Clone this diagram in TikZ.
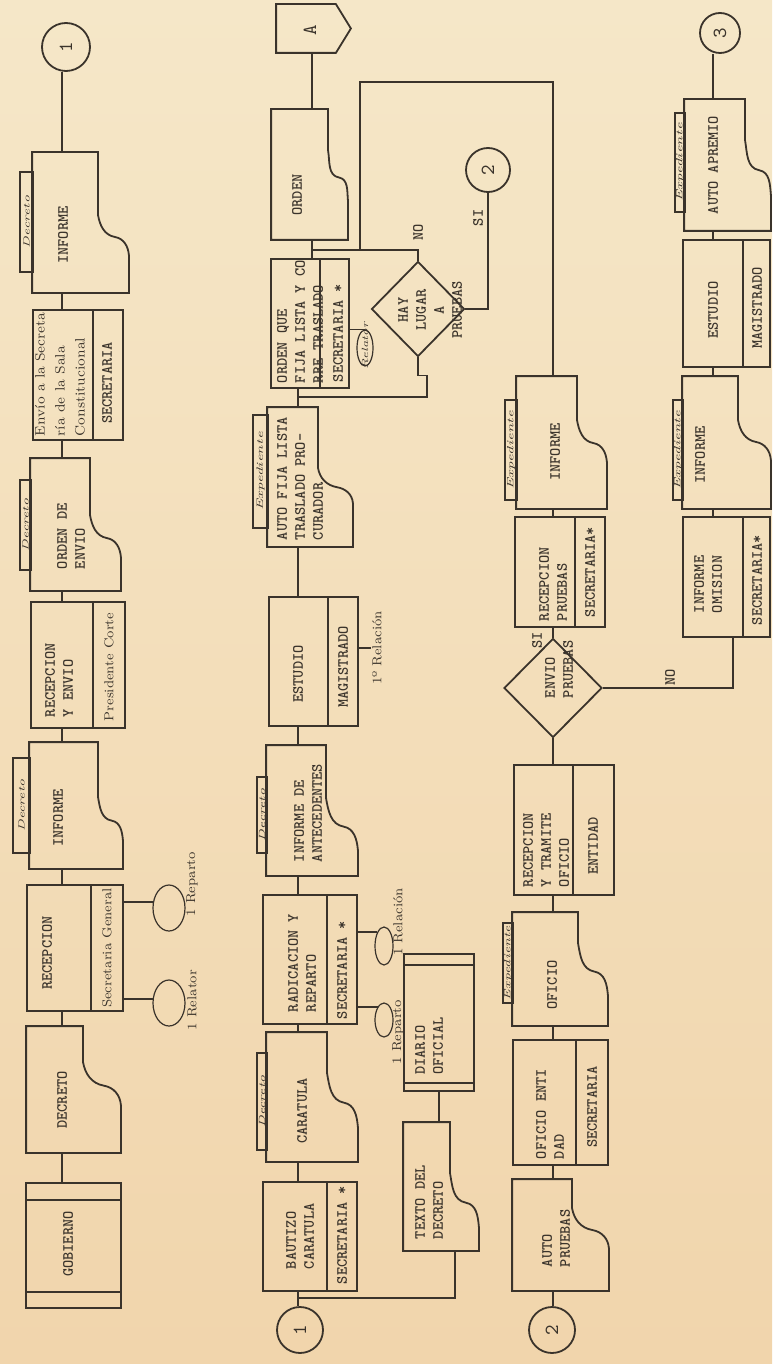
\documentclass[tikz,border=0pt]{standalone}
\usepackage{graphicx}
\usepackage{xcolor}
\definecolor{paper}{HTML}{F5E7C8}
\definecolor{paperdeep}{HTML}{F1D5AC}
\definecolor{ink}{HTML}{3A332B}
\usetikzlibrary{calc,fit,positioning,shapes.geometric}

\begin{document}
\begin{tikzpicture}[x=0.5pt, y=-0.5pt, line width=0.9pt, color=ink,
    box/.style={draw, inner sep=0pt},
    docbox/.style={inner sep=0pt},
    tab/.style={draw, inner sep=0pt, line width=0.6pt},
    conn/.style={draw, circle, inner sep=0pt, minimum size=#1, font=\ttfamily\fontsize{10}{10}\selectfont},
    oval/.style={draw, ellipse, inner sep=0pt, line width=0.6pt},
    txt/.style={rotate=90, inner sep=0pt, align=left, font=\ttfamily\bfseries\fontsize{7.8}{9}\selectfont},
    hand/.style={rotate=90, inner sep=0pt, align=left, font=\rmfamily\fontsize{6.5}{10}\selectfont},
    mini/.style={rotate=90, inner sep=0pt, font=\rmfamily\itshape\fontsize{4.5}{5}\selectfont}]

  \useasboundingbox (0,0) rectangle (772,1364);
  \shade[top color=paper, bottom color=paperdeep] (0,0) rectangle (772,1364);

  % ================= column 1 =================
  \node[conn=24pt] (c1a) at (66,47) {\rotatebox{90}{1}};
  \node[docbox, fit={(33,153) (128,292)}] (inf1) {};
  \node[tab, fit={(20,172) (33,272)}] (t1) {};
  \node[mini] (t1t) at (t1) {\scalebox{1.5}[1]{Decreto}};
  \node[txt] (inf1t) at (63,235) {INFORME};

  \node[box, fit={(33,310) (123,440)}] (env) {};
  \node[hand, anchor=west, font=\rmfamily\fontsize{6.8}{10}\selectfont] (envt) at (60,437) {Envío a la Secreta\\ría de la Sala\\Constitucional};
  \node[txt] (envr) at (107,383) {SECRETARIA};

  \node[docbox, fit={(31,459) (120,590)}] (ord1) {};
  \node[tab, fit={(20,480) (31,570)}] (t2) {};
  \node[mini] (t2t) at (t2) {\scalebox{1.5}[1]{Decreto}};
  \node[txt, anchor=west] (ord1t) at (71,570) {ORDEN DE\\ENVIO};

  \node[box, fit={(31,602) (125,728)}] (recenv) {};
  \node[txt, anchor=west] (recenvt) at (59,718) {RECEPCION\\Y ENVIO};
  \node[hand] (recenvr) at (109,667) {Presidente Corte};

  \node[docbox, fit={(30,743) (122,868)}] (inf2) {};
  \node[tab, fit={(13,758) (30,853)}] (t3) {};
  \node[mini] (t3t) at (t3) {\scalebox{1.5}[1]{Decreto}};
  \node[txt] (inf2t) at (58,818) {INFORME};

  \node[box, fit={(27,885) (123,1011)}] (rec) {};
  \node[txt] (rect) at (47,953) {RECEPCION};
  \node[hand] (recr) at (107,948) {Secretaria General};

  \node[oval, minimum width=16pt, minimum height=23pt] (ell1) at (169,908) {};
  \node[oval, minimum width=16pt, minimum height=23pt] (ell2) at (169,1003) {};
  \node[hand] (lab1) at (192,884) {1 Reparto};
  \node[hand] (lab2) at (192,1000) {1 Relator};

  \node[docbox, fit={(27,1027) (120,1152)}] (dec) {};
  \node[txt] (dect) at (62,1100) {DECRETO};

  \node[box, fit={(26,1183) (121,1308)}] (gob) {};
  \node[txt] (gobt) at (68,1244) {GOBIERNO};

  % ================= column 2 =================
  \node[docbox, fit={(277,5) (350,52)}] (offA) {};
  \draw (offA.south west) -- (offA.north west) -- ($(offA.north east)+(-15,0)$)
    -- (offA.east) -- ($(offA.south east)+(-15,0)$) -- cycle;
  \node[txt, font=\ttfamily\fontsize{10}{10}\selectfont] (offAt) at (310,30) {A};

  \node[docbox, fit={(272,110) (347,239)}] (ordA) {};
  \node[txt] (ordAt) at (297,195) {ORDEN};

  \node[box, fit={(271,259) (349,388)}] (oql) {};
  \node[txt, anchor=west] (oqlt) at (300,384) {ORDEN QUE\\FIJA LISTA Y CO\\RRE TRASLADO};
  \node[txt] (oqlr) at (338,333) {SECRETARIA *};
  \node[oval, minimum width=8pt, minimum height=18pt] (rel) at (365,348) {};
  \node[mini] (relt) at (365,346) {\scalebox{1.4}[1]{Relator}};

  \node[draw, diamond, inner sep=0pt, minimum width=46.5pt, minimum height=47.5pt] (hay) at (418,309) {};
  \node[txt, align=center] (hayt) at (430,310) {HAY\\LUGAR\\A\\PRUEBAS};
  \node[txt] (not1) at (418,232) {NO};
  \node[txt] (sit1) at (478,218) {SI};
  \node[conn=22pt] (c2a) at (488,170) {\rotatebox{90}{2}};

  \node[docbox, fit={(268,408) (352,546)}] (afl) {};
  \node[tab, fit={(253,415) (268,528)}] (t4) {};
  \node[mini] (t4t) at (t4) {\scalebox{1.6}[1]{Expediente}};
  \node[txt, anchor=west] (aflt) at (300,541) {AUTO FIJA LISTA\\TRASLADO PRO-\\CURADOR};

  \node[box, fit={(269,597) (358,726)}] (est1) {};
  \node[txt] (est1t) at (298,674) {ESTUDIO};
  \node[txt] (est1r) at (343,667) {MAGISTRADO};
  \node[hand] (rl1) at (377,648) {1º Relación};

  \node[docbox, fit={(267,746) (357,875)}] (ant) {};
  \node[tab, fit={(257,777) (267,853)}] (t5) {};
  \node[mini] (t5t) at (t5) {\scalebox{1.5}[1]{Decreto}};
  \node[txt, anchor=west] (antt) at (308,863) {INFORME DE\\ANTECEDENTES};

  \node[box, fit={(263,895) (357,1024)}] (rad) {};
  \node[txt, anchor=west] (radt) at (302,1013) {RADICACION Y\\REPARTO};
  \node[txt] (radr) at (342,970) {SECRETARIA *};
  \node[oval, minimum width=9pt, minimum height=19pt] (ell3) at (384,946) {};
  \node[oval, minimum width=9pt, minimum height=17pt] (ell4) at (384,1020) {};
  \node[hand] (lab3) at (398,922) {1 Relación};
  \node[hand] (lab4) at (398,1032) {1 Reparto};

  \node[box, fit={(404,954) (474,1091)}] (dia) {};
  \node[txt] (diat) at (429,1046) {DIARIO\\OFICIAL};
  \node[docbox, fit={(404,1123) (478,1250)}] (texd) {};
  \node[txt, anchor=west] (texdt) at (429,1240) {TEXTO DEL\\DECRETO};

  \node[docbox, fit={(267,1033) (357,1161)}] (car) {};
  \node[tab, fit={(257,1053) (267,1150)}] (t6) {};
  \node[mini] (t6t) at (t6) {\scalebox{1.5}[1]{Decreto}};
  \node[txt] (cart) at (302,1111) {CARATULA};

  \node[box, fit={(263,1182) (357,1291)}] (bau) {};
  \node[txt, anchor=west] (baut) at (300,1270) {BAUTIZO\\CARATULA};
  \node[txt] (baur) at (342,1235) {SECRETARIA *};
  \node[conn=23pt] (c1b) at (300,1330) {\rotatebox{90}{1}};

  % ================= column 3 =================
  \node[docbox, fit={(517,377) (606,508)}] (inf3) {};
  \node[tab, fit={(505,400) (517,500)}] (t7) {};
  \node[mini] (t7t) at (t7) {\scalebox{1.6}[1]{Expediente}};
  \node[txt] (inf3t) at (555,452) {INFORME};

  \node[box, fit={(515,517) (605,627)}] (recp) {};
  \node[txt, anchor=west] (recpt) at (553,622) {RECEPCION\\PRUEBAS};
  \node[txt] (recpr) at (590,572) {SECRETARIA*};

  \node[draw, diamond, inner sep=0pt, minimum width=49pt, minimum height=49.5pt] (env2) at (553,688) {};
  \node[txt, anchor=west] (env2t) at (559,699) {ENVIO\\PRUEBAS};
  \node[txt] (sit2) at (537,640) {SI};
  \node[txt] (not2) at (670,677) {NO};

  \node[box, fit={(514,765) (614,895)}] (rtr) {};
  \node[txt, anchor=west] (rtrt) at (546,888) {RECEPCION\\Y TRAMITE\\OFICIO};
  \node[txt] (rtrr) at (593,846) {ENTIDAD};

  \node[docbox, fit={(513,913) (607,1025)}] (ofi) {};
  \node[tab, fit={(503,923) (513,1003)}] (t8) {};
  \node[mini] (t8t) at (t8) {\scalebox{1.5}[1]{Expediente}};
  \node[txt] (ofit) at (552,985) {OFICIO};

  \node[box, fit={(513,1040) (608,1165)}] (ofe) {};
  \node[txt, anchor=west] (ofet) at (550,1160) {OFICIO ENTI\\DAD};
  \node[txt] (ofer) at (592,1107) {SECRETARIA};

  \node[docbox, fit={(513,1180) (608,1290)}] (aup) {};
  \node[txt, anchor=west] (aupt) at (556,1268) {AUTO\\PRUEBAS};
  \node[conn=23pt] (c2b) at (552,1330) {\rotatebox{90}{2}};

  % ================= column 4 =================
  \node[conn=20pt] (c3) at (720,33) {\rotatebox{90}{3}};
  \node[docbox, fit={(685,100) (770,230)}] (apr) {};
  \node[tab, fit={(675,113) (685,212)}] (t9) {};
  \node[mini] (t9t) at (t9) {\scalebox{1.6}[1]{Expediente}};
  \node[txt] (aprt) at (713,165) {AUTO APREMIO};

  \node[box, fit={(683,240) (770,367)}] (est2) {};
  \node[txt] (est2t) at (713,310) {ESTUDIO};
  \node[txt] (est2r) at (757,308) {MAGISTRADO};

  \node[docbox, fit={(683,377) (770,508)}] (inf4) {};
  \node[tab, fit={(673,400) (683,500)}] (t10) {};
  \node[mini] (t10t) at (t10) {\scalebox{1.6}[1]{Expediente}};
  \node[txt] (inf4t) at (700,455) {INFORME};

  \node[box, fit={(683,517) (770,637)}] (inom) {};
  \node[txt, anchor=west] (inomt) at (708,614) {INFORME\\OMISION};
  \node[txt] (inomr) at (757,580) {SECRETARIA*};

  % ================= outlines =================
  \foreach \n/\xc/\ya/\yb in {inf1/98/215/255, ord1/90/515/557, inf2/98/797/840,
      dec/83/1062/1105, ordA/328/150/200, afl/318/468/503, ant/326/798/850,
      car/327/1073/1127, texd/450/1173/1227, inf3/577/420/462, ofi/578/943/995,
      aup/572/1208/1248, apr/745/140/195, inf4/738/420/460}{
    \draw (\n.south west) -- (\n.north west) -- (\xc,0 |- \n.north) -- (\xc,\ya)
      to[out=-80,in=170] ($(\xc,\ya)!0.55!(\n.east |- 0,\yb)$)
      to[out=-10,in=95] (\n.east |- 0,\yb) -- (\n.south east) -- cycle;
  }

  \foreach \n/\xs in {env/93, recenv/93, rec/91, oql/320, est1/328, rad/327, bau/327,
      recp/575, inom/743, rtr/573, ofe/576, est2/743}{
    \draw (\xs,0 |- \n.north) -- (\xs,0 |- \n.south);
  }

  \foreach \n/\ys in {gob/1200, gob/1292, dia/965, dia/1083}{
    \draw (\n.west |- 0,\ys) -- (\n.east |- 0,\ys);
  }

  % ================= connectors =================
  \coordinate (s1) at (62,0);
  \coordinate (s2) at (298,0);
  \coordinate (s2t) at (312,0);
  \coordinate (s3) at (553,0);
  \coordinate (s4) at (713,0);
  \coordinate (jo) at (360,250);
  \coordinate (jtop) at (360,82);
  \coordinate (jb) at (298,397);
  \coordinate (jc) at (298,1298);

  \foreach \a/\b in {c1a/inf1, inf1/env, env/ord1, ord1/recenv, recenv/inf2, inf2/rec, rec/dec, dec/gob}{
    \draw (s1 |- \a.south) -- (s1 |- \b.north);
  }
  \draw (rec.east |- ell1.160) -- (ell1.160);
  \draw (rec.east |- ell2.165) -- (ell2.165);

  \draw (s2t |- offA.south) -- (s2t |- ordA.north);
  \draw (s2t |- ordA.south) -- (s2t |- oql.north);
  \draw (s2t |- jo) -- (jo) -- (jtop) -| (s3 |- inf3.north);
  \draw (jo) -| (hay.north);
  \draw (hay.east) -| (c2a.south);
  \draw (hay.south) |- ++(9,18) |- (jb);
  \draw (oql.east |- rel.north) -- (rel.north);

  \foreach \a/\b in {oql/afl, afl/est1, est1/ant, ant/rad, rad/car, car/bau, bau/c1b}{
    \draw (s2 |- \a.south) -- (s2 |- \b.north);
  }
  \draw (est1.east |- rl1.north) -- (rl1.north);
  \draw (rad.east |- ell3.115) -- (ell3.115);
  \draw (rad.east |- ell4.115) -- (ell4.115);
  \draw (dia.south) -- (dia.south |- texd.north);
  \draw ($(texd.south west)!0.68!(texd.south east)$) |- (jc);

  \draw (s3 |- inf3.south) -- (s3 |- recp.north);
  \draw (s3 |- recp.south) -- (env2.north);
  \draw (env2.south) -- (s3 |- rtr.north);
  \draw (env2.east) -| ($(inom.south west)!0.57!(inom.south east)$);
  \foreach \a/\b in {rtr/ofi, ofi/ofe, ofe/aup, aup/c2b}{
    \draw (s3 |- \a.south) -- (s3 |- \b.north);
  }

  \foreach \a/\b in {c3/apr, apr/est2, est2/inf4, inf4/inom}{
    \draw (s4 |- \a.south) -- (s4 |- \b.north);
  }

\end{tikzpicture}
\end{document}
